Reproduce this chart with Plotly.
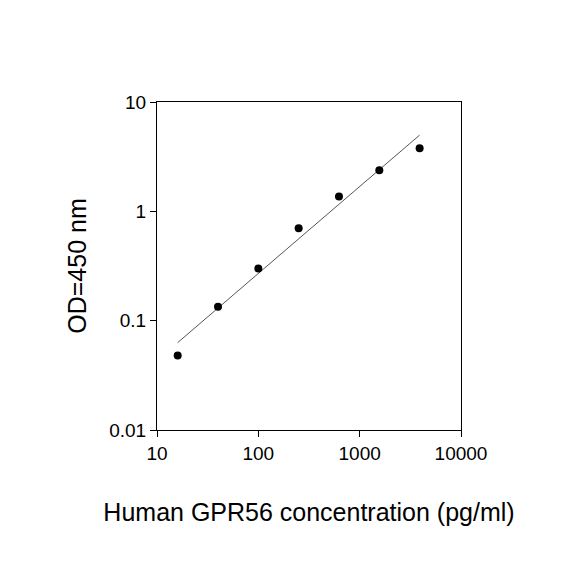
import plotly.graph_objects as go

conc = [16, 40, 100, 250, 625, 1562.5, 3906]
od = [0.048, 0.134, 0.30, 0.70, 1.37, 2.38, 3.78]
fit_x = [16, 3906]
fit_y = [0.063, 4.98]

fig = go.Figure()
fig.add_trace(go.Scatter(x=fit_x, y=fit_y, mode="lines", line=dict(color="#555", width=1)))
fig.add_trace(go.Scatter(x=conc, y=od, mode="markers", marker=dict(color="black", size=8)))
ax = dict(type="log", showgrid=False, zeroline=False, showline=True, linecolor="black",
          linewidth=1, mirror=True, ticks="outside", ticklen=6, tickcolor="black",
          tickfont=dict(size=19, color="black"), dtick=1)
fig.update_layout(
    width=584, height=584, showlegend=False, plot_bgcolor="white", paper_bgcolor="white",
    margin=dict(l=149, r=131, t=94, b=162),
    font=dict(family="Liberation Sans, Arial", color="black"),
    xaxis=dict(ax, range=[1, 4], tickvals=[10, 100, 1000, 10000], ticktext=["10", "100", "1000", "10000"],
               title=dict(text="Human GPR56 concentration (pg/ml)", font=dict(size=25), standoff=40)),
    yaxis=dict(ax, range=[-2, 1], tickvals=[0.01, 0.1, 1, 10], ticktext=["0.01", "0.1", "1", "10"],
               title=dict(text="OD=450 nm", font=dict(size=25), standoff=15)),
)
fig.write_html("out.html")
